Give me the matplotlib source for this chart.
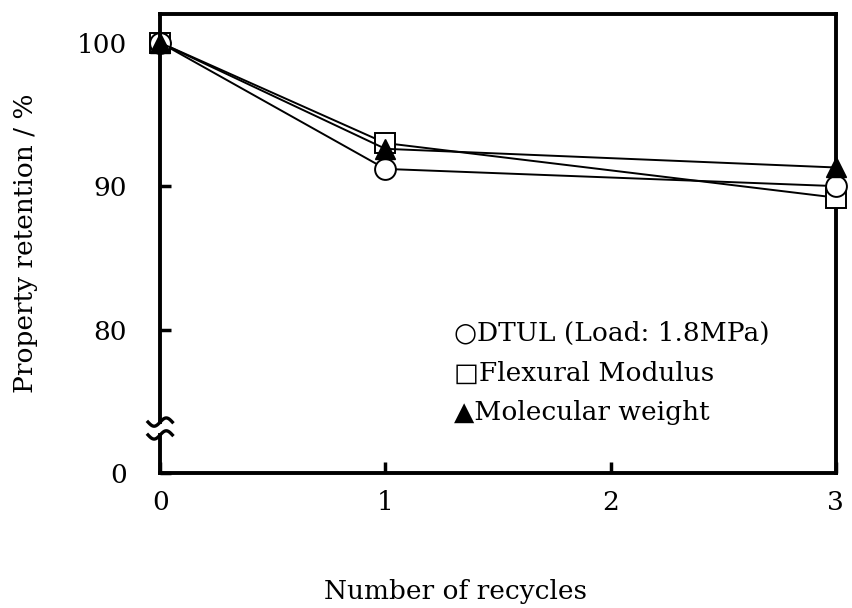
import numpy as np
import matplotlib
matplotlib.use("Agg")
import matplotlib.pyplot as plt

plt.rcParams['font.family'] = ['DejaVu Serif', 'DejaVu Sans']

cycles = [0, 1, 3]
dtul = [100, 91.2, 90.0]
flex_mod = [100, 93.0, 89.2]
mol_weight = [100, 92.6, 91.3]

y_ticks = [70, 80, 90, 100]
y_labels = ['0', '80', '90', '100']
x_ticks = [0, 1, 2, 3]

fig = plt.figure(figsize=(8.52, 6.08), dpi=100)
ax = fig.add_axes([0.188, 0.222, 0.793, 0.755])

# square first, circle over it, triangle on top
ax.plot(cycles, flex_mod, color='black', lw=1.4, marker='s', ms=14,
        mfc='white', mec='black', mew=1.4, clip_on=False, zorder=3)
ax.plot(cycles, dtul, color='black', lw=1.4, marker='o', ms=15,
        mfc='white', mec='black', mew=1.4, clip_on=False, zorder=4)
ax.plot(cycles, mol_weight, color='black', lw=1.4, marker='^', ms=15,
        mfc='black', mec='black', clip_on=False, zorder=5)

ax.set_xlim(0, 3)
ax.set_ylim(70.14, 102)
ax.set_xticks(x_ticks)
ax.set_yticks(y_ticks)
ax.set_yticklabels(y_labels)
ax.tick_params(direction='in', length=8, width=2.5, labelsize=19)
ax.tick_params(axis='y', pad=24)
ax.tick_params(axis='x', pad=12)

for s in ['top', 'right', 'bottom']:
    ax.spines[s].set_linewidth(2.8)
ax.spines['left'].set_visible(False)

# left spine with break
kw = dict(color='black', lw=2.8, transform=ax.transAxes, clip_on=False,
          solid_capstyle='projecting', zorder=6)
ax.plot([0, 0], [0, 0.083], **kw)
ax.plot([0, 0], [0.111, 1], **kw)
t = np.linspace(-1, 1, 40)
for yc in [0.083, 0.111]:
    ax.plot(t * 0.018, yc + 0.009 * np.sin(t * np.pi), color='black',
            lw=2.4, transform=ax.transAxes, clip_on=False, zorder=6)

ax.set_ylabel('Property retention / %', fontsize=19, labelpad=28)
# x label sits far below the axis in the original
fig.text(0.535, 0.027, 'Number of recycles', fontsize=19,
         ha='center', va='center')

legend_rows = ['\u25cbDTUL (Load: 1.8MPa)', '\u25a1Flexural Modulus',
               '\u25b2Molecular weight']
for i, txt in enumerate(legend_rows):
    ax.text(0.435, 0.305 - i * 0.087, txt, transform=ax.transAxes,
            fontsize=19, va='center', ha='left')

fig.savefig('out.png', dpi=100)
